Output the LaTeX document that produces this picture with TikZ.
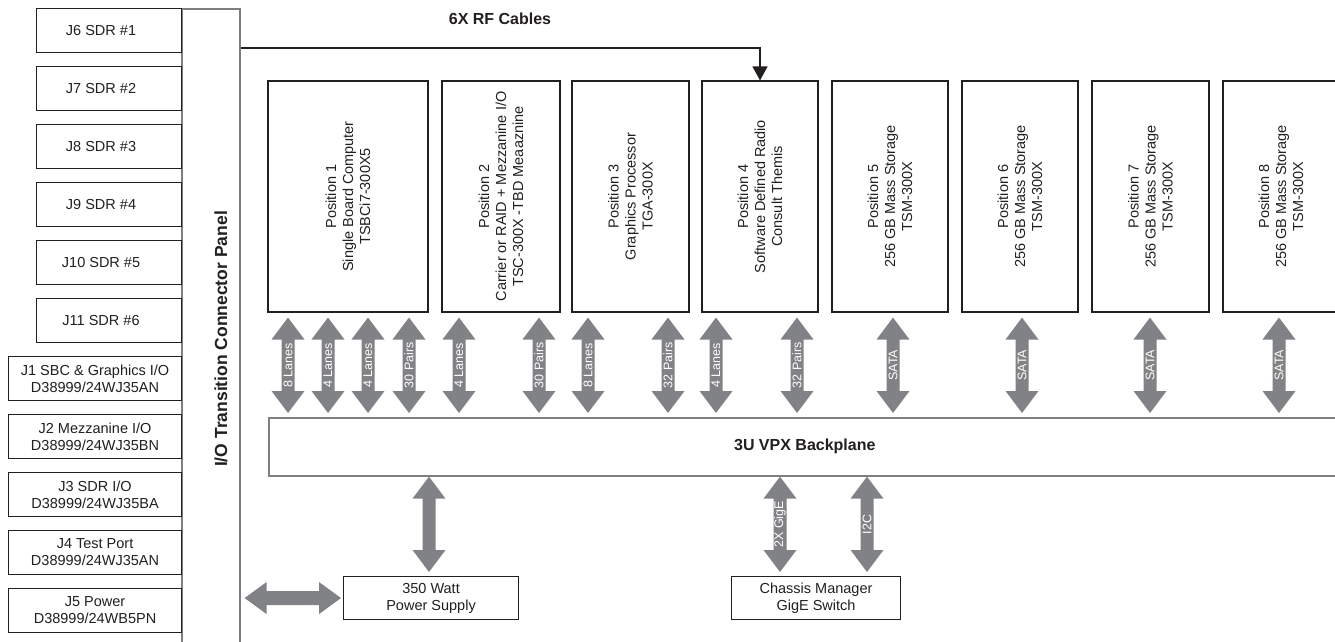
\documentclass[tikz,border=0pt]{standalone}
\usepackage{fontspec}
\setmainfont{Liberation Sans}
\usetikzlibrary{arrows.meta,calc}
\definecolor{busgray}{HTML}{808285}
\definecolor{edge}{HTML}{231F20}
\definecolor{paneledge}{HTML}{7F7F7F}
\definecolor{textcol}{HTML}{231F20}
\newcommand\vbus[2]{%
  \fill[busgray] (#1) -- ++(16.5,22) -- ++(-10,0) -- ($(#2)+(6.5,-22)$) -- ++(10,0) -- (#2)
    -- ++(-16.5,-22) -- ++(10,0) -- ($(#1)+(-6.5,22)$) -- ++(-10,0) -- cycle;}
\newcommand\hbus[2]{%
  \fill[busgray] (#1) -- ++(22,-16) -- ++(0,9) -- ($(#2)+(-22,-7)$) -- ++(0,-9) -- (#2)
    -- ++(-22,16) -- ++(0,-9) -- ($(#1)+(22,7)$) -- ++(0,9) -- cycle;}
\tikzset{
  every node/.append style={text=textcol},
  box/.style={draw=edge, line width=1.1pt, fill=white, inner sep=0pt,
    font=\fontsize{14.5}{17}\selectfont, align=center},
  gbox/.style={draw=paneledge, line width=1.6pt, fill=white, inner sep=0pt},
  posbox/.style={box, rotate=90, minimum width=231pt},
  buslabel/.style={text=white, font=\fontsize{12.5}{14}\selectfont, rotate=90, inner sep=0pt},
  boldlab/.style={font=\bfseries\fontsize{16}{19}\selectfont, inner sep=0pt},
  rf/.style={draw=edge, line width=1.3pt, -{Triangle[length=14pt,width=15pt]}},
}
\begin{document}
\begin{tikzpicture}[x=1pt,y=-1pt]
\useasboundingbox (0,0) rectangle (1335,642);
\begin{scope}
\clip (0,0) rectangle (1335,642);
\fill[white] (0,0) rectangle (1335,642);

% I/O transition connector panel
\node[gbox, anchor=north west, minimum width=58pt, minimum height=660pt] (panel) at (181,8) {};
\node[boldlab, font=\bfseries\fontsize{17.5}{20}\selectfont, rotate=90] (panellab) at (221,339) {I/O Transition Connector Panel};

% connector boxes
\foreach \t/\lab [count=\i] in {8/J6 SDR \#1, 66/J7 SDR \#2, 124/J8 SDR \#3, 182/J9 SDR \#4, 240/J10 SDR \#5, 298/J11 SDR \#6}{
  \node[box, anchor=north west, minimum width=145pt, minimum height=44pt,
    label={[xshift=-8pt, font=\fontsize{14.5}{17}\selectfont]center:\lab}] (S\i) at (36,\t) {};
}
\foreach \t/\lab [count=\i] in {356/{J1 SBC \& Graphics I/O\\D38999/24WJ35AN}, 414/{J2 Mezzanine I/O\\D38999/24WJ35BN}, 472/{J3 SDR I/O\\D38999/24WJ35BA}, 530/{J4 Test Port\\D38999/24WJ35AN}, 588/{J5 Power\\D38999/24WB5PN}}{
  \node[box, anchor=north west, minimum width=173pt, minimum height=44pt] (J\i) at (8,\t) {\lab};
}

% position boxes (rotated: page bottom = .west, page top = .east)
\node[posbox, minimum height=160pt] (P1) at (348,196.5) {Position 1\\Single Board Computer\\TSBCi7-300X5};
\node[posbox, minimum height=118pt] (P2) at (501,196.5) {Position 2\\Carrier or RAID + Mezzanine I/O\\TSC-300X -TBD Meaaznine};
\node[posbox, minimum height=117pt] (P3) at (630.5,196.5) {Position 3\\Graphics Processor\\TGA-300X};
\node[posbox, minimum height=116pt] (P4) at (760,196.5) {Position 4\\Software Defined Radio\\Consult Themis};
\node[posbox, minimum height=116pt] (P5) at (890,196.5) {Position 5\\256 GB Mass Storage\\TSM-300X};
\node[posbox, minimum height=116pt] (P6) at (1020,196.5) {Position 6\\256 GB Mass Storage\\TSM-300X};
\node[posbox, minimum height=117pt] (P7) at (1150.5,196.5) {Position 7\\256 GB Mass Storage\\TSM-300X};
\node[posbox, minimum height=116pt] (P8) at (1281,196.5) {Position 8\\256 GB Mass Storage\\TSM-300X};

% backplane
\node[gbox, anchor=north west, minimum width=1072pt, minimum height=58pt,
  font=\bfseries\fontsize{16}{19}\selectfont] (BP) at (268,417) {3U VPX Backplane};

% RF cables
\node[boldlab] (rflab) at (500,19) {6X RF Cables};
\draw[rf] ([yshift=-40pt]panel.north east) -| (P4.east);

% buses positions <-> backplane
\foreach \x/\lab [count=\i] in {288/8 Lanes, 328/4 Lanes, 368/4 Lanes, 409/30 Pairs, 459/4 Lanes, 539/30 Pairs, 588/8 Lanes, 668/32 Pairs, 716/4 Lanes, 797/32 Pairs, 893/SATA, 1022/SATA, 1150/SATA, 1279/SATA}{
  \coordinate (bt\i) at ([yshift=-5pt]\x,0 |- P1.west);
  \coordinate (bb\i) at ([yshift=4pt]\x,0 |- BP.north);
  \vbus{bt\i}{bb\i}
  \path (bb\i) -- node[buslabel]{\lab} (bt\i);
}

% bottom boxes
\node[box, anchor=north west, minimum width=175pt, minimum height=43pt] (PS) at (343,576) {350 Watt\\Power Supply};
\node[box, anchor=north west, minimum width=169pt, minimum height=43pt] (CM) at (731,576) {Chassis Manager\\GigE Switch};

% bottom buses
\coordinate (pwt) at (429,0 |- BP.south);
\coordinate (pwb) at ([yshift=4pt]429,0 |- PS.north);
\vbus{pwt}{pwb}
\coordinate (c1t) at (780,0 |- BP.south);
\coordinate (c1b) at ([yshift=4pt]780,0 |- CM.north);
\vbus{c1t}{c1b}
\path (c1b) -- node[buslabel]{2X GigE} (c1t);
\coordinate (c2t) at (867,0 |- BP.south);
\coordinate (c2b) at ([yshift=4pt]867,0 |- CM.north);
\vbus{c2t}{c2b}
\path (c2b) -- node[buslabel]{I2C} (c2t);
\coordinate (hl) at ([xshift=4pt]panel.east |- PS.west);
\coordinate (hr) at ([xshift=-2pt]PS.west);
\hbus{hl}{hr}
\end{scope}
\end{tikzpicture}
\end{document}
